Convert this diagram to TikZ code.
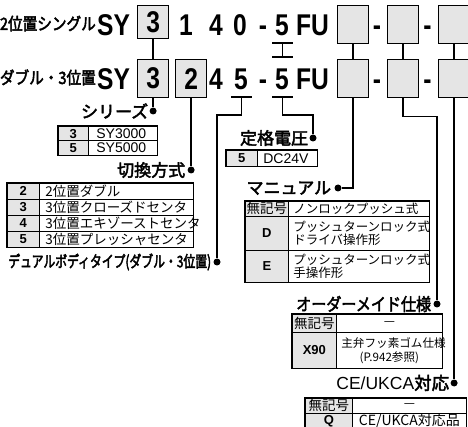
\documentclass[tikz,border=0pt]{standalone}
\usepackage{fontspec}
\setmainfont{Liberation Sans}
\newfontfamily\jpfont{Noto Sans CJK JP}
\newfontfamily\jphead[FakeBold=2.6]{Noto Sans CJK JP}
\newfontfamily\jpnarrow[FakeStretch=0.86]{Noto Sans CJK JP}
\newfontfamily\jpheadnarrow[FakeStretch=0.86, FakeBold=2.6]{Noto Sans CJK JP}
\newfontfamily\jpcond[FakeStretch=0.74, FakeBold=2.6]{Noto Sans CJK JP}
\newfontfamily\codefont[FakeStretch=0.82]{Liberation Sans}
\usetikzlibrary{positioning}

\definecolor{cellgray}{gray}{0.9}

\tikzset{
  codechar/.style={font=\codefont\bfseries\fontsize{30}{30}\selectfont, inner sep=0pt, anchor=base},
  codebox/.style={draw, line width=1.2pt, fill=cellgray, anchor=north west, inner sep=0pt,
    minimum width=31pt, minimum height=38pt, font=\codefont\bfseries\fontsize{30}{30}\selectfont},
  tagline/.style={font=\jpheadnarrow\fontsize{17}{17}\selectfont, inner sep=0pt, anchor=base east},
  heading/.style={font=\jphead\fontsize{17}{17}\selectfont, inner sep=0pt},
  dotnode/.style={circle, fill=black, inner sep=0pt, minimum size=7pt},
  link/.style={line width=1.3pt},
  keycell/.style={draw, line width=.7pt, fill=cellgray, anchor=north west, inner sep=0pt,
    font=\bfseries\fontsize{13}{13}\selectfont},
  valcell/.style={draw, line width=.7pt, anchor=north west, inner xsep=5pt, inner ysep=0pt,
    align=left, font=\jpfont\fontsize{12.5}{13.5}\selectfont},
  tableframe/.style={draw, line width=1.2pt}
}

\begin{document}
\begin{tikzpicture}[x=1pt, y=-1pt]
\useasboundingbox (0,0) rectangle (468,427);
\clip (0,0) rectangle (468,427);

% Model code, first line
\node[tagline] (lsingle) at (96,30) {2位置シングル};
\node[codechar, anchor=base west] (syA) at (97,36) {SY};
\node[codebox, minimum height=33pt] (tser) at (137,5) {3};
\foreach \c/\x [count=\i] in {1/186, 4/216, 0/240, -/263, 5/282}
  \node[codechar] (tc\i) at (\x,36) {\c};
\node[codechar, anchor=base west] (tfu) at (296,36) {FU};
\foreach \x [count=\i] in {337,387,438}
  \node[codebox] (topt\i) at (\x,5) {};
\node[codechar] (tdashA) at (377,36) {-};
\node[codechar] (tdashB) at (427.5,36) {-};

% Model code, second line
\node[tagline] (ldouble) at (96,84) {ダブル・3位置};
\node[codechar, anchor=base west] (syB) at (97,90) {SY};
\node[codebox] (bser) at (137,59) {3};
\node[codebox] (bsw) at (175,59) {2};
\foreach \c/\x [count=\i] in {4/216, 5/241, -/263, 5/282}
  \node[codechar] (bc\i) at (\x,90) {\c};
\node[codechar, anchor=base west] (bfu) at (296,90) {FU};
\foreach \x [count=\i] in {337,387,438}
  \node[codebox] (bopt\i) at (\x,59) {};
\node[codechar] (bdashA) at (377,90) {-};
\node[codechar] (bdashB) at (427.5,90) {-};

% Links between the two lines
\draw[link] (tser.south) -- (bser.north);
\foreach \i in {1,2,3}
  \draw[link] (topt\i.south) -- (bopt\i.north);
\coordinate (ibeamA) at (282.5,43);
\coordinate (ibeamB) at (282.5,57);
\draw[link, line width=1.1pt] (ibeamA) -- (ibeamB);
\draw[link, line width=1.1pt] ([xshift=-10.5pt]ibeamA) -- ([xshift=10.5pt]ibeamA);
\draw[link, line width=1.1pt] ([xshift=-10.5pt]ibeamB) -- ([xshift=10.5pt]ibeamB);

% Dots
\node[dotnode] (dser) at (bser.south |- 0,111) {};
\node[dotnode] (dsw) at (bsw.south |- 0,170) {};
\node[dotnode] (ddual) at (217,262) {};
\node[dotnode] (dvolt) at (313,138) {};
\node[dotnode] (dman) at (338,188) {};
\node[dotnode] (dord) at (437,304) {};
\node[dotnode] (dce) at (bopt3.south |- 0,383) {};

% Brackets under the code
\coordinate (ubDual) at (241.5,97);
\coordinate (ubVolt) at (282.5,97);
\draw[link, line width=1.1pt] ([xshift=-10.5pt]ubDual) -- ([xshift=10.5pt]ubDual);
\draw[link, line width=1.1pt] ([xshift=-10.5pt]ubVolt) -- ([xshift=10.5pt]ubVolt);

% Leaders
\draw[link] (bser.south) -- (dser);
\draw[link] (bsw.south) -- (dsw);
\draw[link] (ubDual) -- ++(0,18) -| (ddual);
\draw[link] (ubVolt) -- ++(0,18) -| (dvolt);
\draw[link] (bopt1.south) |- (dman);
\draw[link] (bopt2.south) -- ++(0,18) -| (dord);
\draw[link] (bopt3.south) -- (dce);

% Headings
\node[heading, left=1pt of dser] (hser) {シリーズ};
\node[heading, left=2pt of dsw] (hsw) {切換方式};
\node[heading, font=\jpcond\fontsize{16}{17}\selectfont, left=2pt of ddual] (hdual) {デュアルボディタイプ(ダブル・3位置)};
\node[heading, left=1pt of dvolt] (hvolt) {定格電圧};
\node[heading, left=3pt of dman] (hman) {マニュアル};
\node[heading, font=\jpheadnarrow\fontsize{17.5}{17}\selectfont, left=2pt of dord] (hord) {オーダーメイド仕様};
\node[heading, font=\fontsize{17.5}{17}\selectfont, left=1pt of dce] (hce) {CE/UKCA{\jphead 対応}};

% Series table
\foreach \k/\v [count=\i from 0] in {3/SY3000, 5/SY5000} {
  \node[keycell, minimum width=30pt, minimum height=14.5pt] (serk\k) at (58,126+14.5*\i) {\k};
  \node[valcell, inner xsep=8pt, text width=53pt, minimum height=14.5pt,
    font=\fontsize{14}{14}\selectfont] (serv\k) at (88,126+14.5*\i) {\v};
}
\draw[tableframe] (serk3.north west) rectangle (serv5.south east);

% Switching table
\foreach \k/\v [count=\i from 0] in {2/2位置ダブル, 3/3位置クローズドセンタ, 4/3位置エキゾーストセンタ, 5/3位置プレッシャセンタ} {
  \node[keycell, minimum width=32pt, minimum height=16pt] (swk\k) at (7,183+16*\i) {\k};
  \node[valcell, inner xsep=6pt, text width=142pt, minimum height=16pt,
    font=\jpfont\fontsize{13.5}{13.5}\selectfont] (swv\k) at (39,183+16*\i) {\v};
}
\draw[tableframe] (swk2.north west) rectangle (swv5.south east);

% Voltage table
\node[keycell, minimum width=31pt, minimum height=16pt] (voltk) at (226,150) {5};
\node[valcell, inner xsep=6pt, text width=48pt, minimum height=16pt,
  font=\fontsize{14}{14}\selectfont] (voltv) at (257,150) {DC24V};
\draw[tableframe] (voltk.north west) rectangle (voltv.south east);

% Manual table
\node[keycell, minimum width=43pt, minimum height=15pt, font=\jpfont\fontsize{13.5}{13}\selectfont] (mank0) at (245,201) {無記号};
\node[valcell, text width=131pt, minimum height=15pt] (manv0) at (288,201) {ノンロックプッシュ式};
\node[keycell, minimum width=43pt, minimum height=34pt] (mankD) at (245,216) {D};
\node[valcell, text width=131pt, minimum height=34pt] (manvD) at (288,216) {プッシュターンロック式\\ドライバ操作形};
\node[keycell, minimum width=43pt, minimum height=32pt] (mankE) at (245,250) {E};
\node[valcell, text width=131pt, minimum height=32pt] (manvE) at (288,250) {プッシュターンロック式\\手操作形};
\draw[tableframe] (mank0.north west) rectangle (manvE.south east);

% Made-to-order table
\node[keycell, minimum width=44pt, minimum height=18pt, font=\jpfont\fontsize{13.5}{13}\selectfont] (ordk0) at (292,314) {無記号};
\node[valcell, align=center, text width=96pt, minimum height=18pt] (ordv0) at (336,314) {—};
\node[keycell, minimum width=44pt, minimum height=36pt] (ordkX) at (292,332) {X90};
\node[valcell, align=center, text width=96pt, minimum height=36pt,
  font=\jpfont\fontsize{11.6}{14}\selectfont] (ordvX) at (336,332) {主弁フッ素ゴム仕様\\(P.942参照)};
\draw[tableframe] (ordk0.north west) rectangle (ordvX.south east);

% CE/UKCA table
\node[keycell, minimum width=47pt, minimum height=15pt, font=\jpfont\fontsize{13.5}{13}\selectfont] (cek0) at (305,398) {無記号};
\node[valcell, align=center, text width=104pt, minimum height=15pt] (cev0) at (352,398) {—};
\node[keycell, minimum width=47pt, minimum height=16pt] (cekQ) at (305,413) {Q};
\node[valcell, align=center, text width=104pt, minimum height=16pt,
  font=\jpfont\fontsize{14}{14}\selectfont] (cevQ) at (352,413) {CE/UKCA対応品};
\draw[tableframe] (cek0.north west) rectangle (cevQ.south east);
\end{tikzpicture}
\end{document}
